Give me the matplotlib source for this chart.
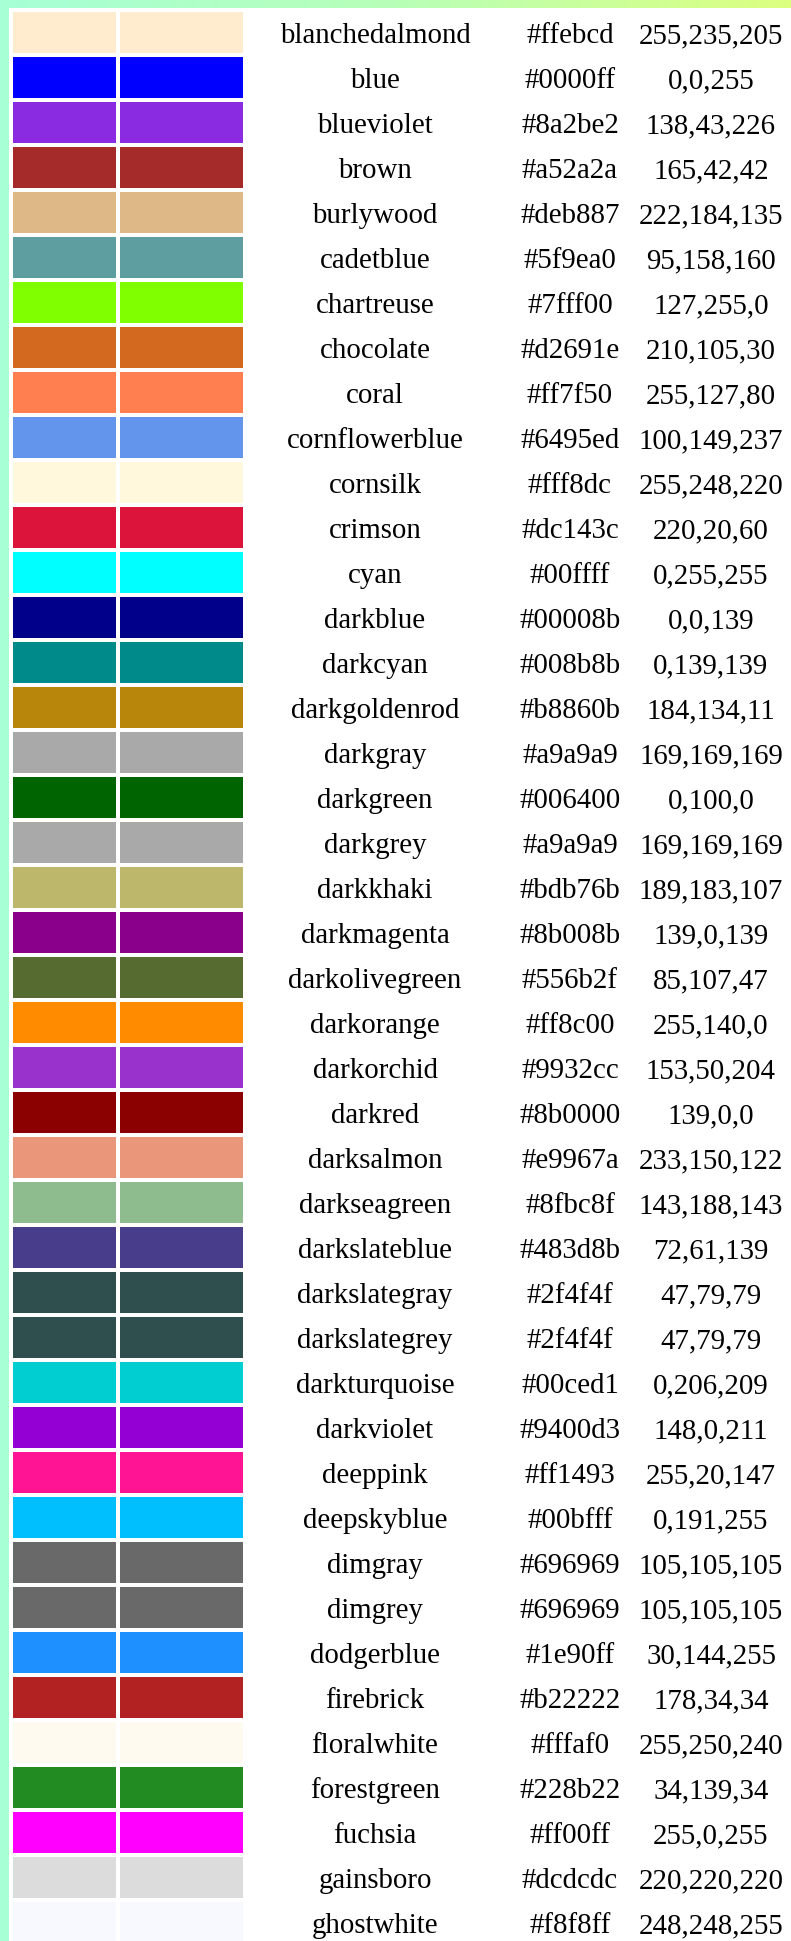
# -*- coding: UTF-8 -*-
# 颜色名称对照表 (blanchedalmond ~ ghostwhite)

import numpy as np
import matplotlib.pyplot as plt
from matplotlib.colors import LinearSegmentedColormap
from matplotlib.patches import Rectangle

names = ['blanchedalmond', 'blue', 'blueviolet', 'brown', 'burlywood', 'cadetblue',
         'chartreuse', 'chocolate', 'coral', 'cornflowerblue', 'cornsilk', 'crimson',
         'cyan', 'darkblue', 'darkcyan', 'darkgoldenrod', 'darkgray', 'darkgreen',
         'darkgrey', 'darkkhaki', 'darkmagenta', 'darkolivegreen', 'darkorange',
         'darkorchid', 'darkred', 'darksalmon', 'darkseagreen', 'darkslateblue',
         'darkslategray', 'darkslategrey', 'darkturquoise', 'darkviolet', 'deeppink',
         'deepskyblue', 'dimgray', 'dimgrey', 'dodgerblue', 'firebrick', 'floralwhite',
         'forestgreen', 'fuchsia', 'gainsboro', 'ghostwhite']
hex_codes = ['#ffebcd', '#0000ff', '#8a2be2', '#a52a2a', '#deb887', '#5f9ea0',
             '#7fff00', '#d2691e', '#ff7f50', '#6495ed', '#fff8dc', '#dc143c',
             '#00ffff', '#00008b', '#008b8b', '#b8860b', '#a9a9a9', '#006400',
             '#a9a9a9', '#bdb76b', '#8b008b', '#556b2f', '#ff8c00',
             '#9932cc', '#8b0000', '#e9967a', '#8fbc8f', '#483d8b',
             '#2f4f4f', '#2f4f4f', '#00ced1', '#9400d3', '#ff1493',
             '#00bfff', '#696969', '#696969', '#1e90ff', '#b22222', '#fffaf0',
             '#228b22', '#ff00ff', '#dcdcdc', '#f8f8ff']
rgb_text = ['255,235,205', '0,0,255', '138,43,226', '165,42,42', '222,184,135', '95,158,160',
            '127,255,0', '210,105,30', '255,127,80', '100,149,237', '255,248,220', '220,20,60',
            '0,255,255', '0,0,139', '0,139,139', '184,134,11', '169,169,169', '0,100,0',
            '169,169,169', '189,183,107', '139,0,139', '85,107,47', '255,140,0',
            '153,50,204', '139,0,0', '233,150,122', '143,188,143', '72,61,139',
            '47,79,79', '47,79,79', '0,206,209', '148,0,211', '255,20,147',
            '0,191,255', '105,105,105', '105,105,105', '30,144,255', '178,34,34', '255,250,240',
            '34,139,34', '255,0,255', '220,220,220', '248,248,255']

W, H = 791, 1941
fig = plt.figure(figsize=(W / 100, H / 100), dpi=100)
ax = fig.add_axes([0, 0, 1, 1])
ax.set_xlim(0, W)
ax.set_ylim(H, 0)
ax.axis('off')

# 背景渐变 (左: 薄荷绿 -> 右: 黄绿)
cmap = LinearSegmentedColormap.from_list('bg', ['#a6ffd6', '#b8ffb8', '#dcff80'])
grad = np.linspace(0, 1, 256).reshape(1, -1)
ax.imshow(grad, cmap=cmap, extent=[0, W, H, 0], aspect='auto', zorder=0)

# 白色面板
ax.add_patch(Rectangle((9, 8), W - 9, H - 8, facecolor='white', edgecolor='none', zorder=1))

row_h = 45
top0 = 12
for i, (nm, hx, rgb) in enumerate(zip(names, hex_codes, rgb_text)):
    y = top0 + i * row_h
    # 两个色块
    ax.add_patch(Rectangle((13, y), 103, 41, facecolor=hx, edgecolor='none', zorder=2))
    ax.add_patch(Rectangle((120, y), 123, 41, facecolor=hx, edgecolor='none', zorder=2))
    # 名称 / 十六进制 / RGB
    ax.text(375, y + 31, nm, ha='center', va='baseline', fontsize=20.8,
            family='Liberation Serif', color='black', zorder=3)
    ax.text(570, y + 31, hx, ha='center', va='baseline', fontsize=20.8,
            family='Liberation Serif', color='black', zorder=3)
    ax.text(711, y + 31, rgb, ha='center', va='baseline', fontsize=20.8,
            family='Liberation Serif', color='black', zorder=3)

fig.savefig('out.png', dpi=100)
